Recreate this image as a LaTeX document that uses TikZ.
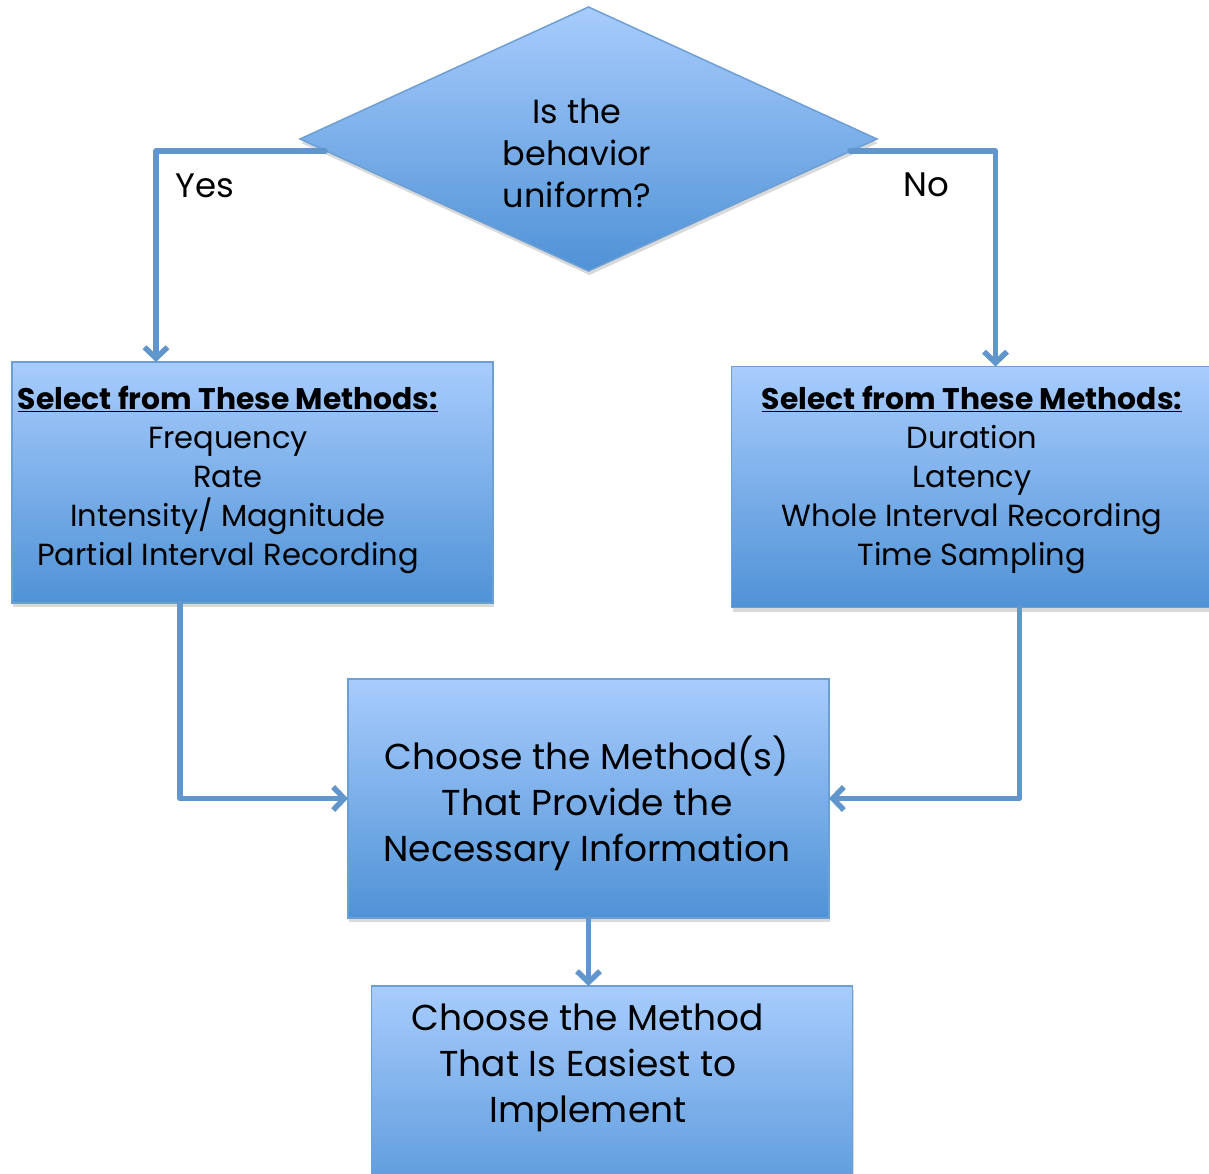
\documentclass[tikz,border=0pt]{standalone}
\usepackage{fontspec}
\setmainfont{Poppins}
\usetikzlibrary{shapes.geometric,arrows.meta,shadows}

\definecolor{ca8ccfd}{RGB}{168,204,253}
\definecolor{c4f92d6}{RGB}{79,146,214}
\definecolor{c6e9fd4}{RGB}{110,159,212}
\definecolor{c6196cc}{RGB}{97,150,204}

\newcommand{\listhead}{{\fontsize{29.8}{39}\selectfont\underline{\textbf{Select
  from These Methods:}}}}

\begin{document}
\begin{tikzpicture}[x=1pt, y=1pt, yscale=-1, inner sep=0pt, outer sep=0pt,
  blockfill/.style={top color=ca8ccfd, bottom color=c4f92d6, draw=c6e9fd4,
    line width=1.5pt, drop shadow={opacity=0.3, shadow xshift=1pt,
    shadow yshift=-4pt}},
  methodbox/.style={blockfill, rectangle, minimum width=481pt,
    minimum height=241pt},
  listtext/.style={align=center, font=\fontsize{30.5}{39}\selectfont},
  choicetext/.style={align=center, font=\fontsize{36}{46}\selectfont},
  flow/.style={draw=c6196cc, line width=5.5pt, line cap=round, line join=round,
    -{Straight Barb[length=11pt, width=23pt, line width=5.5pt]}}]
\clip (0,0) rectangle (1209,1174);

% decision
\node[blockfill, diamond, minimum width=577pt, minimum height=264pt]
  (decision) at (588.5,139) {};
\node[align=center, font=\fontsize{33.5}{42}\selectfont] (decisiontext)
  at (577,153) {Is the\\behavior\\uniform?};

% the two lists of methods
\node[methodbox] (leftbox) at (252.5,482.5) {};
\node[listtext] (lefttext) at (228,480) {\listhead\\Frequency\\Rate\\Intensity/
  Magnitude\\Partial Interval Recording};
\node[methodbox] (rightbox) at (972,487) {};
\node[listtext] (righttext) at (972,480) {\listhead\\Duration\\Latency\\Whole
  Interval Recording\\Time Sampling};

% the two choices
\node[methodbox, minimum height=239pt] (midbox) at (588.5,798.5) {};
\node[choicetext] (midtext) at (587,803) {Choose the Method(s)\\That Provide
  the\\Necessary Information};
\node[methodbox, minimum height=240pt] (botbox) at (612,1106) {};
\node[choicetext] (bottext) at (588,1068) {Choose the Method\\That Is Easiest
  to\\Implement};

% branch labels
\node[font=\fontsize{34}{40}\selectfont] (yeslabel) at (205,186) {Yes};
\node[font=\fontsize{34}{40}\selectfont] (nolabel) at (926,185) {No};

% connectors
\coordinate (yesstart) at (325,151);
\coordinate (nostart) at (850,151);
\path[flow] (yesstart) -| ([xshift=144pt]leftbox.north west);
\path[flow] (nostart) -| ([xshift=264pt]rightbox.north west);
\path[flow] ([xshift=168pt]leftbox.south west) |- (midbox.west);
\path[flow] ([xshift=288pt]rightbox.south west) |- (midbox.east);
\path[flow] (midbox.south) -- (midbox.south |- botbox.north);

\end{tikzpicture}
\end{document}
